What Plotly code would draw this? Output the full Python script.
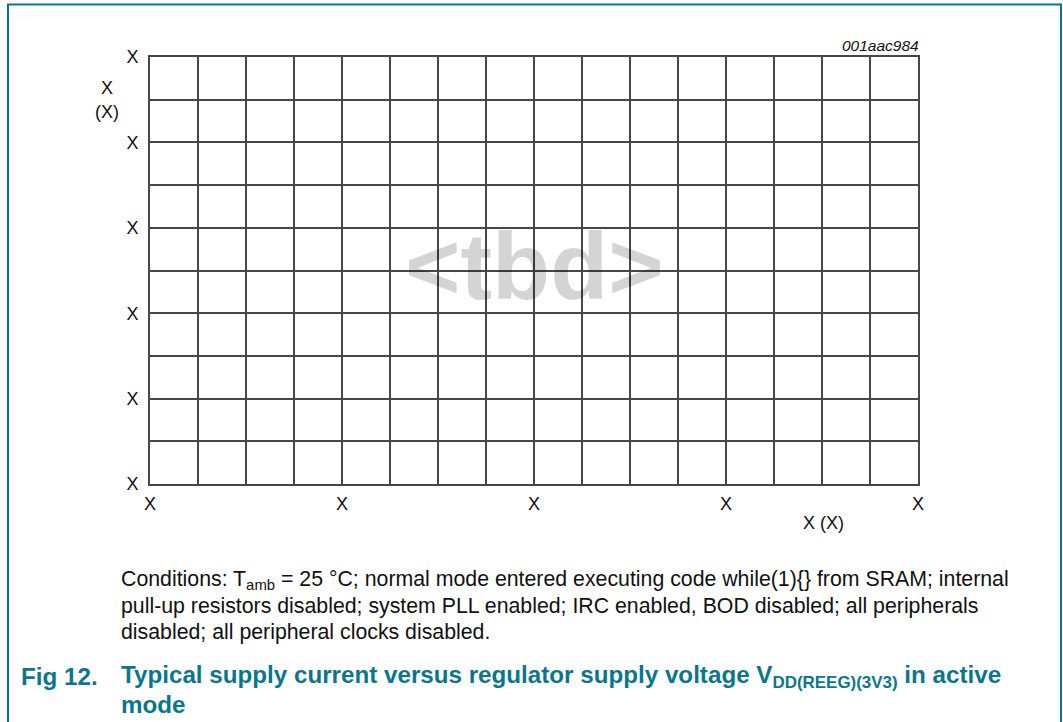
import plotly.graph_objects as go

# axis ticks / labels (placeholder chart: all labels are "X")
x_tick_vals = [0, 4, 8, 12, 16]
x_tick_text = ["X", "X", "X", "X", "X"]
y_tick_vals = [0, 2, 4, 6, 8, 10]
y_tick_text = ["X", "X", "X", "X", "X", "X"]
x_range = [0, 16]
y_range = [0, 10]

TEAL = "#0b768b"
GRID = "#474747"
FONT = "Liberation Sans, Arial, sans-serif"
SMALL = 18

fig = go.Figure()

axis_common = dict(
    showgrid=True, gridcolor=GRID, gridwidth=2,
    showline=True, linecolor=GRID, linewidth=2, mirror=True,
    zeroline=False, ticks="outside", tickcolor="rgba(0,0,0,0)",
    tickfont=dict(family=FONT, size=SMALL, color="#111"),
    fixedrange=True,
)

fig.update_xaxes(range=x_range, tickmode="array", tickvals=x_tick_vals, ticktext=x_tick_text,
                 ticklen=2,
                 minor=dict(dtick=1, showgrid=True, gridcolor=GRID, gridwidth=2), **axis_common)
fig.update_yaxes(range=y_range, tickmode="array", tickvals=y_tick_vals, ticktext=y_tick_text,
                 ticklen=6,
                 minor=dict(dtick=1, showgrid=True, gridcolor=GRID, gridwidth=2), **axis_common)

W, H = 1063, 722
L, R, T, B = 150, 145, 57, 238
pw, ph = W - L - R, H - T - B

def px(xp):
    return (xp - L) / pw

def py(yp):
    return (H - B - yp) / ph

ann = []
ann.append(dict(text="<b>&lt;tbd&gt;</b>", x=8, y=5.1, xref="x", yref="y", showarrow=False,
                font=dict(family=FONT, size=95, color="rgba(0,0,0,0.17)"),
                xanchor="center", yanchor="middle"))
ann.append(dict(text="<i>001aac984</i>", x=px(921), y=py(46), xref="paper", yref="paper",
                showarrow=False, xanchor="right", yanchor="middle",
                font=dict(family=FONT, size=15.5, color="#111")))
for txt, yy in (("X", 88), ("(X)", 112)):
    ann.append(dict(text=txt, x=px(107), y=py(yy), xref="paper", yref="paper",
                    showarrow=False, xanchor="center", yanchor="middle",
                    font=dict(family=FONT, size=SMALL, color="#111")))
ann.append(dict(text="X (X)", x=px(823), y=py(523), xref="paper", yref="paper",
                showarrow=False, xanchor="center", yanchor="middle",
                font=dict(family=FONT, size=SMALL, color="#111")))
cond_lines = [
    "Conditions: T<sub>amb</sub> = 25 °C; normal mode entered executing code while(1){} from SRAM; internal",
    "pull-up resistors disabled; system PLL enabled; IRC enabled, BOD disabled; all peripherals",
    "disabled; all peripheral clocks disabled.",
]
for i, line in enumerate(cond_lines):
    ann.append(dict(text=line, x=px(119), y=py(580 + 26 * i), xref="paper", yref="paper",
                    showarrow=False, xanchor="left", yanchor="middle",
                    font=dict(family=FONT, size=21.3, color="#111")))
ann.append(dict(text="<b>Fig 12.</b>", x=px(19), y=py(676), xref="paper", yref="paper",
                showarrow=False, xanchor="left", yanchor="middle",
                font=dict(family=FONT, size=24.2, color=TEAL)))
ann.append(dict(text="<b>Typical supply current versus regulator supply voltage V<sub>DD(REEG)(3V3)</sub> in active</b>",
                x=px(119), y=py(676), xref="paper", yref="paper",
                showarrow=False, xanchor="left", yanchor="middle",
                font=dict(family=FONT, size=24.2, color=TEAL)))
ann.append(dict(text="<b>mode</b>", x=px(119), y=py(704), xref="paper", yref="paper",
                showarrow=False, xanchor="left", yanchor="middle",
                font=dict(family=FONT, size=24.2, color=TEAL)))

shapes = [
    dict(type="line", xref="paper", yref="paper", x0=px(8), x1=px(8), y0=py(4), y1=py(730),
         line=dict(color=TEAL, width=2)),
    dict(type="line", xref="paper", yref="paper", x0=px(7), x1=px(1062), y0=py(4.5), y1=py(4.5),
         line=dict(color=TEAL, width=2)),
    dict(type="line", xref="paper", yref="paper", x0=px(1061), x1=px(1061), y0=py(4), y1=py(730),
         line=dict(color=TEAL, width=2)),
]

fig.update_layout(
    width=W, height=H, margin=dict(l=L, r=R, t=T, b=B, pad=0),
    paper_bgcolor="white", plot_bgcolor="white",
    showlegend=False, annotations=ann, shapes=shapes,
    font=dict(family=FONT),
)

fig.write_html("out.html", config={"displayModeBar": False, "staticPlot": True},
               post_script="document.body.style.margin='0';document.body.style.overflow='hidden';")
